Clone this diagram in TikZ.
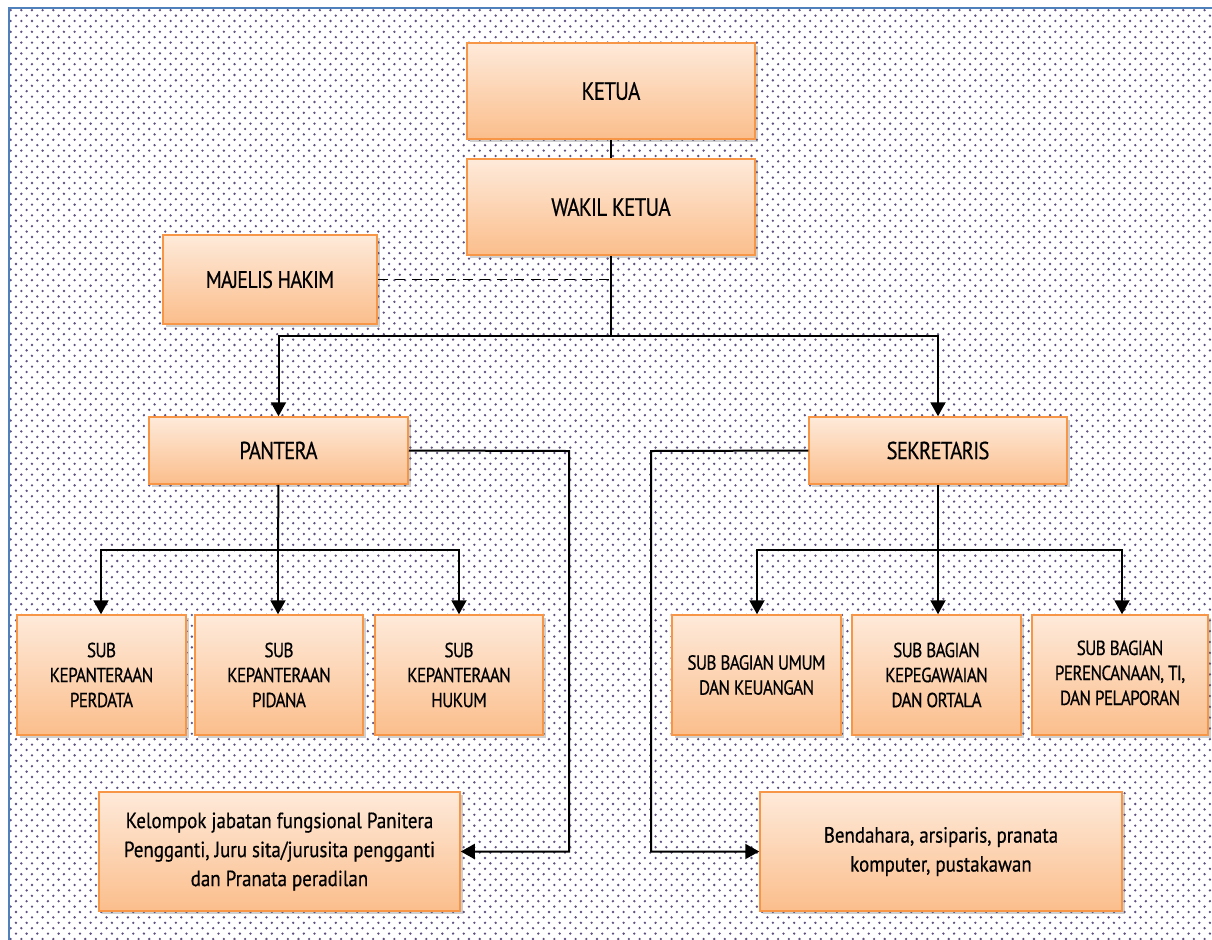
\documentclass[tikz,border=0pt]{standalone}
\usepackage{fontspec}
\setmainfont{PT Sans}[FakeStretch=0.86,FakeBold=0.5]
\newfontfamily\capfont{PT Sans}[FakeStretch=0.84,LetterSpace=-3,FakeBold=0.5]
\usetikzlibrary{arrows.meta,shadows,patterns}
\definecolor{boxtop}{RGB}{254,234,218}
\definecolor{boxbot}{RGB}{251,190,140}
\definecolor{boxline}{RGB}{247,150,70}
\definecolor{dotcol}{RGB}{95,80,130}
\definecolor{frameblue}{RGB}{79,129,189}
\pgfdeclarepatternformonly{bgdots}{\pgfqpoint{-1pt}{-1pt}}{\pgfqpoint{6pt}{6pt}}{\pgfqpoint{5.33pt}{5.4pt}}{%
  \pgfpathcircle{\pgfqpoint{0pt}{0pt}}{0.65pt}%
  \pgfpathcircle{\pgfqpoint{2.665pt}{2.7pt}}{0.65pt}%
  \pgfusepath{fill}}
\tikzset{
  obox/.style={draw=boxline,line width=0.75pt,top color=boxtop,bottom color=boxbot,
    inner sep=0pt,align=center,
    drop shadow={shadow xshift=1.5pt,shadow yshift=-1.5pt,opacity=0.3,fill=black!60}},
  conn/.style={draw=black,line width=1pt},
  arr/.style={conn,-{Triangle[length=7pt,width=7.5pt]}},
  bigcap/.style={font=\capfont\fontsize{12.5}{15}\selectfont},
  midcap/.style={font=\capfont\fontsize{12.3}{14}\selectfont},
  smallcap/.style={font=\capfont\fontsize{10.2}{12.5}\selectfont},
  lowtext/.style={font=\fontsize{11}{14.5}\selectfont},
}
\newcommand\orgnode[7][]{\node[obox,#1,minimum width={(#4-#2)*0.5pt},minimum height={(#5-#3)*0.5pt}] (#6) at ({(#2+#4)/2},{(#3+#5)/2}) {#7};}
\begin{document}
\begin{tikzpicture}[x=0.5pt,y=-0.5pt]
\useasboundingbox (0,0) rectangle (1212,939);
\fill[white] (0,0) rectangle (1212,939);
\fill[pattern=bgdots,pattern color=dotcol] (10,9) rectangle (1212,939);
\draw[frameblue,line width=1pt] (9,945) -- (9,8) -- (1215,8);

\orgnode[bigcap]{467}{43}{755}{139}{ketua}{KETUA}
\orgnode[bigcap]{467}{159}{755}{255}{wakil}{WAKIL KETUA}
\orgnode[bigcap,font=\capfont\fontsize{12}{15}\selectfont]{163}{235}{377}{324}{majelis}{MAJELIS HAKIM}
\orgnode[midcap]{149}{417}{408}{484}{pantera}{PANTERA}
\orgnode[midcap]{809}{417}{1067}{484}{sekretaris}{SEKRETARIS}
\orgnode[smallcap]{17}{615}{186}{735}{perdata}{SUB\\KEPANTERAAN\\PERDATA}
\orgnode[smallcap]{195}{615}{363}{735}{pidana}{SUB\\KEPANTERAAN\\PIDANA}
\orgnode[smallcap]{375}{615}{543}{735}{hukum}{SUB\\KEPANTERAAN\\HUKUM}
\orgnode[smallcap]{672}{615}{841}{735}{umum}{SUB BAGIAN UMUM\\DAN KEUANGAN}
\orgnode[smallcap]{852}{615}{1021}{735}{kepeg}{SUB BAGIAN\\KEPEGAWAIAN\\DAN ORTALA}
\orgnode[smallcap]{1032}{615}{1208}{735}{renc}{\raisebox{5pt}{\begin{tabular}{@{}c@{}}SUB BAGIAN\\PERENCANAAN, TI,\\DAN PELAPORAN\end{tabular}}}
\orgnode[lowtext]{99}{792}{460}{911}{kelompok}{Kelompok jabatan fungsional Panitera\\Pengganti, Juru sita/jurusita pengganti\\dan Pranata peradilan}
\orgnode[lowtext]{760}{792}{1122}{911}{bendahara}{Bendahara, arsiparis, pranata\\komputer, pustakawan}

\coordinate (topbus) at (611,336);
\coordinate (pbus) at (278,550);
\coordinate (sbus) at (938,550);
\coordinate (pright) at (569,451);
\coordinate (sleft) at (651,451);

\draw[conn] (ketua.south) -- (wakil.north);
\draw[conn,line width=1.4pt] (wakil.south) -- (topbus);
\draw[conn,dash pattern=on 5pt off 3.5pt,line width=0.9pt] (majelis.east) -- (majelis.east -| wakil.south);
\draw[arr] (topbus) -| (pantera.north);
\draw[arr] (topbus) -| (sekretaris.north);

\draw[conn] (pantera.south) -- (pbus);
\draw[arr] (pbus) -| (perdata.north -| 101,0);
\draw[arr] (pbus) -- (pidana.north -| pbus);
\draw[arr] (pbus) -| (hukum.north -| 459,0);

\draw[conn] (sekretaris.south) -- (sbus);
\draw[arr] (sbus) -| (umum.north -| 757,0);
\draw[arr] (sbus) -- (kepeg.north -| sbus);
\draw[arr] (sbus) -| (renc.north -| 1122,0);

\draw[arr] (pantera.east) -- (pright) |- (kelompok.east);
\draw[arr] (sekretaris.west) -- (sleft) |- (bendahara.west);
\end{tikzpicture}
\end{document}
